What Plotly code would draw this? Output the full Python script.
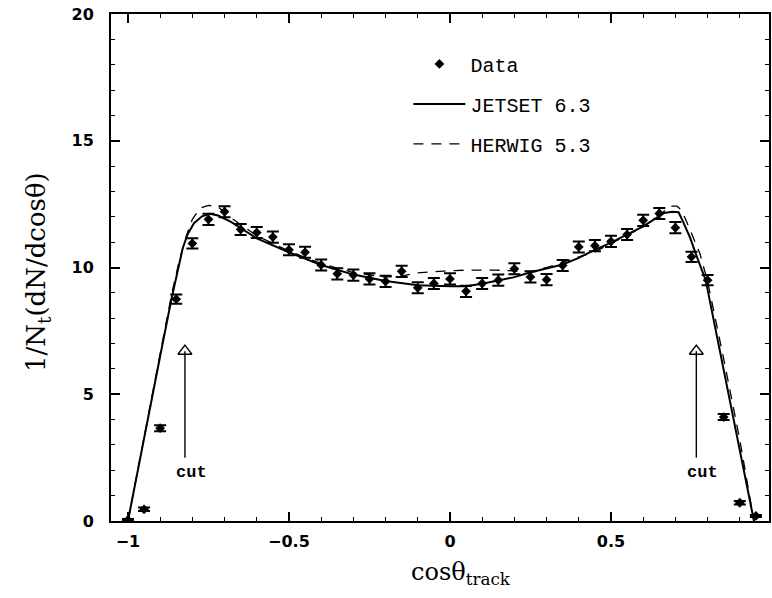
import plotly.graph_objects as go

# Measured track polar-angle distribution
cos_theta = [-1.00, -0.95, -0.90, -0.85, -0.80, -0.75, -0.70, -0.65, -0.60, -0.55,
             -0.50, -0.45, -0.40, -0.35, -0.30, -0.25, -0.20, -0.15, -0.10, -0.05,
             0.00, 0.05, 0.10, 0.15, 0.20, 0.25, 0.30, 0.35, 0.40, 0.45,
             0.50, 0.55, 0.60, 0.65, 0.70, 0.75, 0.80, 0.85, 0.90, 0.95]
data_vals = [0.04, 0.46, 3.66, 8.75, 10.95, 11.90, 12.20, 11.50, 11.38, 11.20,
             10.70, 10.60, 10.10, 9.75, 9.70, 9.55, 9.45, 9.85, 9.20, 9.37,
             9.55, 9.06, 9.37, 9.50, 9.95, 9.63, 9.52, 10.08, 10.81, 10.86,
             11.03, 11.30, 11.86, 12.13, 11.57, 10.42, 9.50, 4.10, 0.72, 0.20]
data_errs = [0.04, 0.07, 0.12, 0.18, 0.20, 0.22, 0.22, 0.22, 0.22, 0.22,
             0.22, 0.22, 0.22, 0.22, 0.22, 0.22, 0.22, 0.22, 0.22, 0.22,
             0.22, 0.22, 0.22, 0.22, 0.22, 0.22, 0.22, 0.22, 0.22, 0.22,
             0.22, 0.22, 0.22, 0.22, 0.22, 0.20, 0.20, 0.12, 0.07, 0.04]

# JETSET 6.3 prediction
jetset_x = [-1.00, -0.95, -0.90, -0.865, -0.845, -0.83, -0.815, -0.795, -0.77, -0.746,
            -0.72, -0.68, -0.60, -0.50, -0.40, -0.30, -0.20, -0.10, 0.00, 0.05,
            0.10, 0.20, 0.245, 0.30, 0.35, 0.40, 0.44, 0.50, 0.60, 0.64,
            0.665, 0.69, 0.71, 0.724, 0.745, 0.766, 0.794, 0.84, 0.879, 0.91, 0.944]
jetset_y = [0.00, 3.30, 6.50, 8.75, 9.95, 10.75, 11.30, 11.75, 12.02, 12.12,
            12.05, 11.80, 11.15, 10.60, 10.10, 9.72, 9.47, 9.30, 9.26, 9.26,
            9.36, 9.62, 9.79, 9.95, 10.12, 10.38, 10.64, 10.98, 11.62, 11.95,
            12.15, 12.20, 12.18, 11.80, 11.20, 10.45, 9.50, 6.60, 4.10, 2.10, 0.00]

# HERWIG 5.3 prediction
herwig_x = [-1.00, -0.95, -0.90, -0.865, -0.84, -0.82, -0.80, -0.775, -0.75, -0.72,
            -0.69, -0.65, -0.60, -0.50, -0.40, -0.30, -0.20, -0.15, -0.10, -0.02,
            0.06, 0.14, 0.20, 0.25, 0.30, 0.40, 0.45, 0.50, 0.60, 0.65,
            0.683, 0.705, 0.72, 0.745, 0.776, 0.80, 0.85, 0.90, 0.944]
herwig_y = [0.00, 3.35, 6.60, 8.90, 10.30, 11.20, 11.90, 12.35, 12.45, 12.40,
            12.05, 11.70, 11.25, 10.65, 10.15, 9.80, 9.62, 9.66, 9.79, 9.86,
            9.90, 9.90, 9.86, 9.84, 10.00, 10.40, 10.62, 10.95, 11.60, 12.05,
            12.42, 12.42, 12.25, 11.50, 10.55, 9.45, 6.40, 3.20, 0.00]

# Acceptance cut positions and arrow extent (data units)
cut_positions = [-0.823, 0.765]
arrow_tail_y = 2.5
arrow_base_y = 6.7
cut_label_y = 1.9

x_ticks = [-1, -0.5, 0, 0.5, 1]
x_tick_text = ["\u22121", "\u22120.5", "0", "0.5", "1"]
y_ticks = [0, 5, 10, 15, 20]

legend_font = dict(family="Liberation Mono", size=20, color="black")

fig = go.Figure()

fig.add_trace(go.Scatter(
    x=jetset_x, y=jetset_y, mode="lines", name="JETSET 6.3",
    line=dict(color="black", width=2), legendgroup="a", legendrank=2,
))
fig.add_trace(go.Scatter(
    x=herwig_x, y=herwig_y, mode="lines", name="HERWIG 5.3",
    line=dict(color="black", width=1.3, dash="10px,8px"), legendgroup="b", legendrank=3,
))
fig.add_trace(go.Scatter(
    x=cos_theta, y=data_vals, mode="markers", name="Data",
    marker=dict(symbol="diamond", size=7.5, color="black"),
    error_y=dict(type="data", array=data_errs, color="black", thickness=2, width=6),
    legendgroup="c", legendrank=1,
))

# "cut" arrows: stem plus open triangular head
for xc in cut_positions:
    fig.add_trace(go.Scatter(
        x=[xc, xc], y=[arrow_tail_y, arrow_base_y], mode="lines",
        line=dict(color="black", width=1.4), showlegend=False, hoverinfo="skip",
    ))
    fig.add_trace(go.Scatter(
        x=[xc], y=[arrow_base_y], mode="markers", showlegend=False, hoverinfo="skip",
        marker=dict(symbol="triangle-up-open", size=12, color="black",
                    line=dict(width=1.5, color="black")),
    ))
    fig.add_annotation(
        x=xc + 0.02, y=cut_label_y, xref="x", yref="y", showarrow=False,
        text="<b>cut</b>", font=dict(family="Liberation Mono", size=17, color="black"),
    )

# Axis titles
fig.add_annotation(
    x=-73 / 660, y=(521.5 - 272) / 507.5, xref="paper", yref="paper", showarrow=False,
    xanchor="center", yanchor="middle",
    text="1/N<sub>t</sub>(dN/dcos\u03b8)", textangle=-90,
    font=dict(family="DejaVu Serif", size=26, color="black"),
)
fig.add_annotation(
    x=(462 - 111) / 660, y=-(574 - 521.5) / 507.5, xref="paper", yref="paper",
    xanchor="center", yanchor="middle",
    showarrow=False, text="cos\u03b8<sub>track</sub>",
    font=dict(family="DejaVu Serif", size=24, color="black"),
)

axis_common = dict(
    showgrid=False, zeroline=False, showline=True, linecolor="black", linewidth=2,
    mirror="allticks", ticks="inside", ticklen=9, tickwidth=1.5, tickcolor="black",
    tickfont=dict(family="DejaVu Sans", size=16, color="black", weight="bold"),
)

fig.update_xaxes(
    range=[-1.0526, 0.9907], tickvals=x_ticks, ticktext=x_tick_text,
    ticklabelstandoff=5,
    minor=dict(dtick=0.1, ticks="inside", ticklen=4, tickcolor="black", tickwidth=1),
    **axis_common,
)
fig.update_yaxes(
    range=[0, 20], tickvals=y_ticks, ticklabelstandoff=12,
    minor=dict(dtick=1, ticks="inside", ticklen=4, tickcolor="black", tickwidth=1),
    **axis_common,
)

fig.update_layout(
    width=772, height=598,
    margin=dict(l=111, r=1, t=14, b=76.5),
    plot_bgcolor="white", paper_bgcolor="white",
    showlegend=True,
    legend=dict(
        x=0.452, y=0.94, xanchor="left", yanchor="top",
        font=legend_font, bgcolor="rgba(0,0,0,0)", borderwidth=0,
        tracegroupgap=11, itemwidth=52,
    ),
)

fig.write_html("out.html")
